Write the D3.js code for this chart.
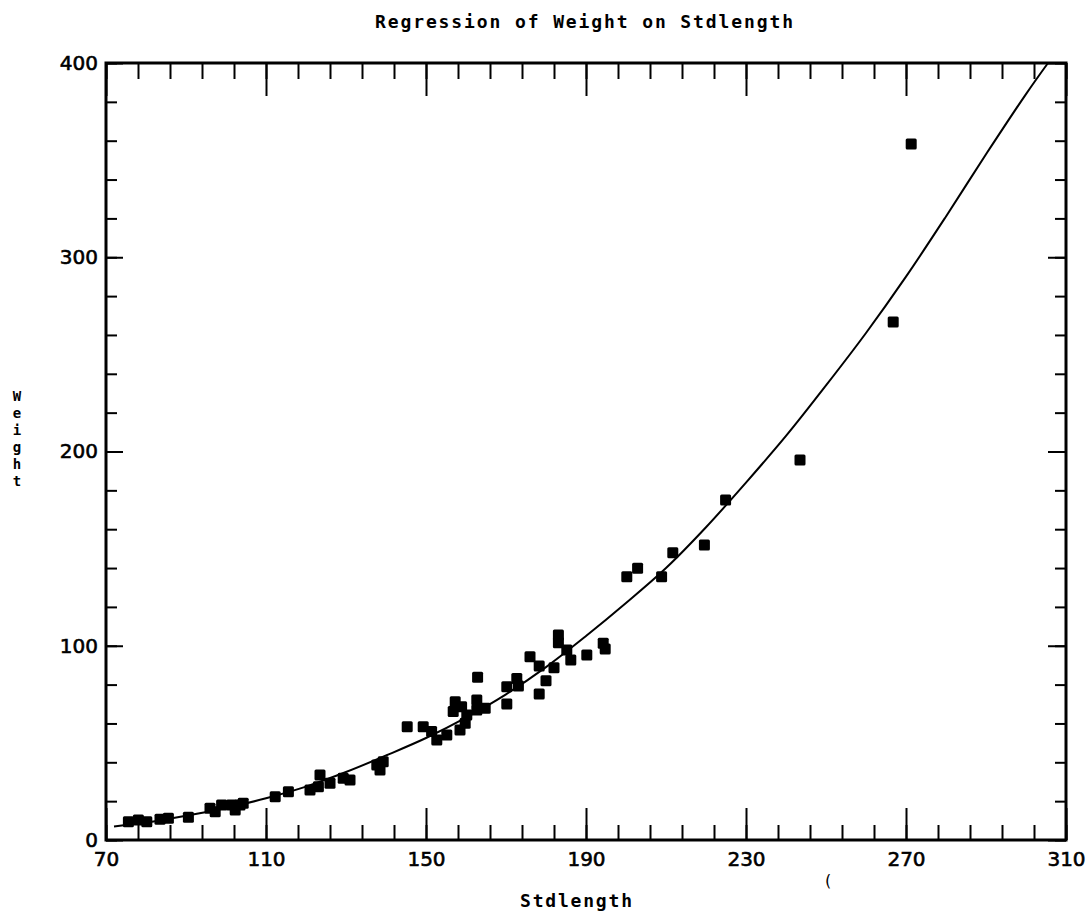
<!DOCTYPE html>
<html>
<head>
<meta charset="utf-8">
<script src="https://cdn.jsdelivr.net/npm/d3@7/dist/d3.min.js"></script>
<style>
  html, body { margin: 0; padding: 0; background: #fff; }
  svg { display: block; }
</style>
</head>
<body>
<svg id="chart" width="1091" height="920"></svg>
<script>
// Observed fish measurements: standard length and weight
const stdLength = [
  75.6, 78.1, 80.2, 83.5, 85.6, 90.6, 96.0, 97.3, 98.9, 101.4, 102.3, 103.5, 104.3,
  112.3, 115.6, 121.0, 123.1, 123.5, 126.0, 129.3, 131.0, 137.7, 138.5, 139.3,
  145.3, 149.3, 151.4, 152.7, 155.2, 157.3, 156.8, 158.9, 158.5, 159.8, 160.2,
  162.7, 162.7, 164.8, 162.9, 170.2, 170.2, 172.7, 173.1, 176.0, 178.3, 182.0,
  180.0, 178.3, 183.1, 183.1, 185.2, 186.2, 190.2, 194.3, 194.8, 200.2, 202.9,
  208.9, 211.7, 219.6, 224.9, 243.5, 266.8, 271.3
];
const weight = [
  9.4, 10.3, 9.4, 10.7, 11.2, 11.7, 16.3, 14.6, 18.0, 18.0, 15.4, 18.0, 18.9,
  22.3, 24.9, 25.7, 27.4, 33.5, 29.2, 31.8, 30.9, 38.6, 36.0, 40.3,
  58.3, 58.3, 55.8, 51.5, 54.1, 71.2, 66.1, 68.6, 56.6, 60.1, 64.4,
  72.1, 66.9, 67.8, 83.8, 70.0, 78.9, 83.2, 79.3, 94.4, 89.6, 88.7,
  82.0, 75.2, 105.5, 101.6, 97.8, 92.7, 95.2, 101.3, 98.3, 135.5, 139.9,
  135.5, 147.9, 151.9, 175.0, 195.6, 266.7, 358.3
];

// Fitted regression curve, sampled along Stdlength
const fitLength = [72, 80, 90, 100, 110, 120, 130, 140, 150, 160, 170, 180, 190,
  200, 210, 220, 230, 240, 250, 260, 270, 280, 290, 300, 305.5];
const fitWeight = [7, 9, 12.5, 16.5, 21.5, 27.5, 35, 43.5, 52.5, 63, 75, 89, 105,
  122, 140, 161, 184, 208, 234, 261, 290, 321, 353, 384, 400];

// Axis ticks
const xMinorTicks = d3.range(70, 311, 8);
const xMajorTicks = [70, 110, 150, 190, 230, 270, 310];
const yMinorTicks = d3.range(0, 401, 20);
const yMajorTicks = [0, 100, 200, 300, 400];

const titleText = "Regression of Weight on Stdlength";
const xTitle = "Stdlength";
const yTitle = "Weight";

const svg = d3.select("#chart");
const plotLeft = 106, plotRight = 1066, plotTop = 63, plotBottom = 840;

const x = d3.scaleLinear().domain([70, 310]).range([plotLeft, plotRight]);
const y = d3.scaleLinear().domain([0, 400]).range([plotBottom, plotTop]);

const tickFont = "'DejaVu Sans', sans-serif";
const monoFont = "'DejaVu Sans Mono', monospace";

function styleAxis(g) {
  g.select(".domain").remove();
  g.selectAll(".tick line").attr("stroke", "#000").attr("stroke-width", 2);
  g.selectAll(".tick text")
    .attr("fill", "#000")
    .attr("font-family", tickFont)
    .attr("font-size", 20)
    .attr("stroke", "#000")
    .attr("stroke-width", 0.6);
}

// Bottom axis: minor and major ticks pointing inward, labels under major ticks
svg.append("g").attr("transform", `translate(0,${plotBottom})`)
  .call(d3.axisBottom(x).tickValues(xMinorTicks).tickSize(-15).tickFormat(""))
  .call(styleAxis);
svg.append("g").attr("transform", `translate(0,${plotBottom})`)
  .call(d3.axisBottom(x).tickValues(xMajorTicks).tickSize(-32).tickPadding(12).tickFormat(d3.format("d")))
  .call(styleAxis);

// Top axis
svg.append("g").attr("transform", `translate(0,${plotTop})`)
  .call(d3.axisTop(x).tickValues(xMinorTicks).tickSize(-16).tickFormat(""))
  .call(styleAxis);
svg.append("g").attr("transform", `translate(0,${plotTop})`)
  .call(d3.axisTop(x).tickValues(xMajorTicks).tickSize(-33).tickFormat(""))
  .call(styleAxis);

// Left axis with labels
svg.append("g").attr("transform", `translate(${plotLeft},0)`)
  .call(d3.axisLeft(y).tickValues(yMinorTicks).tickSize(-11).tickFormat(""))
  .call(styleAxis);
svg.append("g").attr("transform", `translate(${plotLeft},0)`)
  .call(d3.axisLeft(y).tickValues(yMajorTicks).tickSize(-17).tickPadding(8).tickFormat(d3.format("d")))
  .call(styleAxis);

// Right axis
svg.append("g").attr("transform", `translate(${plotRight},0)`)
  .call(d3.axisRight(y).tickValues(yMinorTicks).tickSize(-11).tickFormat(""))
  .call(styleAxis);
svg.append("g").attr("transform", `translate(${plotRight},0)`)
  .call(d3.axisRight(y).tickValues(yMajorTicks).tickSize(-18).tickFormat(""))
  .call(styleAxis);

// Plot frame
svg.append("rect")
  .attr("x", plotLeft).attr("y", plotTop)
  .attr("width", plotRight - plotLeft).attr("height", plotBottom - plotTop)
  .attr("fill", "none").attr("stroke", "#000").attr("stroke-width", 3);

// Regression curve
const fitPts = fitLength.map((d, i) => [d, fitWeight[i]]);
svg.append("path")
  .datum(fitPts)
  .attr("fill", "none")
  .attr("stroke", "#000")
  .attr("stroke-width", 2)
  .attr("d", d3.line().x(d => x(d[0])).y(d => y(d[1])).curve(d3.curveCatmullRom));

// Observations as filled squares
const pts = stdLength.map((d, i) => ({ len: d, wt: weight[i] }));
const s = 11;
svg.append("g").selectAll("rect")
  .data(pts)
  .join("rect")
  .attr("x", d => x(d.len) - s / 2)
  .attr("y", d => y(d.wt) - s / 2)
  .attr("width", s).attr("height", s)
  .attr("rx", 1.5)
  .attr("fill", "#000");

// Title
svg.append("text")
  .attr("x", 584).attr("y", 28)
  .attr("text-anchor", "middle")
  .attr("font-family", monoFont)
  .attr("font-weight", "bold")
  .attr("font-size", 18)
  .attr("textLength", 418).attr("lengthAdjust", "spacing")
  .text(titleText);

// X axis title
svg.append("text")
  .attr("x", 576).attr("y", 907)
  .attr("text-anchor", "middle")
  .attr("font-family", monoFont)
  .attr("font-weight", "bold")
  .attr("font-size", 18)
  .attr("textLength", 112).attr("lengthAdjust", "spacing")
  .text(xTitle);

// Y axis title, letters stacked vertically
svg.append("g").selectAll("text")
  .data(yTitle.split(""))
  .join("text")
  .attr("x", 17)
  .attr("y", (d, i) => 401 + i * 17)
  .attr("text-anchor", "middle")
  .attr("font-family", monoFont)
  .attr("font-weight", "bold")
  .attr("font-size", 14)
  .text(d => d);

// Stray mark below the axis
svg.append("text")
  .attr("x", 828).attr("y", 886)
  .attr("text-anchor", "middle")
  .attr("font-family", tickFont)
  .attr("font-size", 16)
  .text("(");
</script>
</body>
</html>
